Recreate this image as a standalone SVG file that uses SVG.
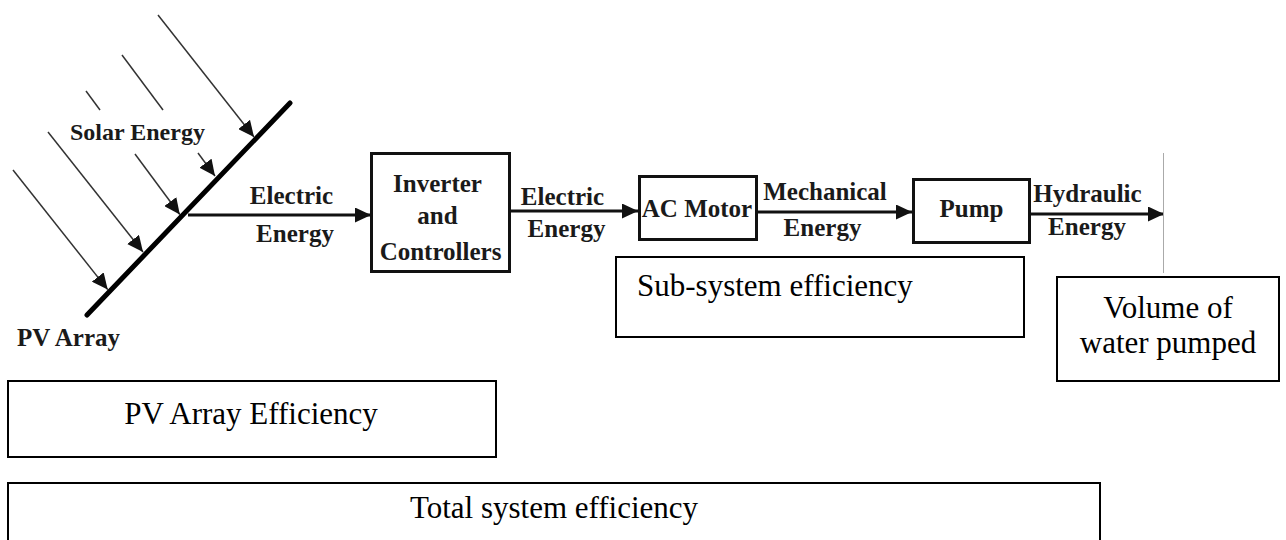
<svg xmlns="http://www.w3.org/2000/svg" width="1286" height="540" viewBox="0 0 1286 540">
<style>
.lbl{font-family:"Liberation Serif","Times New Roman",serif;font-weight:bold;font-size:25px;fill:#1a1a1a;text-anchor:middle}
.big{font-family:"Liberation Serif","Times New Roman",serif;font-size:31px;fill:#000}
.blk{fill:#fff;stroke:#111;stroke-width:3}
.box{fill:#fff;stroke:#000;stroke-width:2}
.flow{stroke:#111;stroke-width:3;fill:none}
.ray{stroke:#333;stroke-width:1.5;fill:none}
</style>
<defs>
<marker id="ah" markerUnits="userSpaceOnUse" markerWidth="17" markerHeight="15" refX="16" refY="7.5" orient="auto">
<path d="M0,0 L16,7.5 L0,15 z" fill="#111"/>
</marker>
</defs>
<rect width="1286" height="540" fill="#fff"/>

<g id="connectors">
<line class="ray" x1="13" y1="170" x2="107.7" y2="289.6" marker-end="url(#ah)"/>
<line class="ray" x1="48" y1="132" x2="143" y2="252" marker-end="url(#ah)"/>
<line class="ray" x1="86" y1="91" x2="100" y2="110"/>
<line class="ray" x1="135" y1="154" x2="179.8" y2="214.5" marker-end="url(#ah)"/>
<line class="ray" x1="122" y1="55" x2="163" y2="110"/>
<line class="ray" x1="198" y1="153" x2="215" y2="176" marker-end="url(#ah)"/>
<line class="ray" x1="158" y1="15" x2="254" y2="137" marker-end="url(#ah)"/>
<line class="flow" x1="188" y1="215" x2="371" y2="215" marker-end="url(#ah)"/>
<line class="flow" x1="510" y1="211" x2="638" y2="211" marker-end="url(#ah)"/>
<line class="flow" x1="757" y1="212" x2="912" y2="212" marker-end="url(#ah)"/>
<line class="flow" x1="1030" y1="214" x2="1164" y2="214" marker-end="url(#ah)"/>
<line x1="1163.5" y1="153" x2="1163.5" y2="273" stroke="#aaa" stroke-width="1"/>
</g>

<g id="pv-array">
<line x1="87" y1="315" x2="290" y2="103" stroke="#000" stroke-width="5" stroke-linecap="round"/>
<text class="lbl" x="17" y="346" style="text-anchor:start">PV Array</text>
<text class="lbl" x="70" y="140" style="text-anchor:start;font-size:24px">Solar Energy</text>
</g>

<g id="flow-labels">
<text class="lbl" x="291.5" y="204">Electric</text>
<text class="lbl" x="295" y="242">Energy</text>
<text class="lbl" x="562.5" y="205">Electric</text>
<text class="lbl" x="566.5" y="237">Energy</text>
<text class="lbl" x="825" y="200">Mechanical</text>
<text class="lbl" x="822.5" y="236">Energy</text>
<text class="lbl" x="1087.5" y="202">Hydraulic</text>
<text class="lbl" x="1087" y="235">Energy</text>
</g>

<g id="inverter">
<rect class="blk" x="371.5" y="153.5" width="138" height="118"/>
<text class="lbl" x="437.5" y="192">Inverter</text>
<text class="lbl" x="437.5" y="224">and</text>
<text class="lbl" x="440.5" y="260">Controllers</text>
</g>

<g id="ac-motor">
<rect class="blk" x="639.5" y="176.5" width="117" height="63"/>
<text class="lbl" x="697" y="217">AC Motor</text>
</g>

<g id="pump">
<rect class="blk" x="913.5" y="179.5" width="116" height="63"/>
<text class="lbl" x="971.5" y="217">Pump</text>
</g>

<g id="sub-system-efficiency">
<rect class="box" x="616" y="257" width="408" height="80"/>
<text class="big" x="637" y="296">Sub-system efficiency</text>
</g>

<g id="volume-of-water">
<rect class="box" x="1057" y="277" width="222" height="104"/>
<text class="big" x="1168" y="318" text-anchor="middle">Volume of</text>
<text class="big" x="1168" y="353" text-anchor="middle">water pumped</text>
</g>

<g id="pv-array-efficiency">
<rect class="box" x="8" y="381" width="488" height="76"/>
<text class="big" x="251" y="424" text-anchor="middle">PV Array Efficiency</text>
</g>

<g id="total-system-efficiency">
<rect class="box" x="8" y="483" width="1092" height="70"/>
<text class="big" x="554" y="518" text-anchor="middle">Total system efficiency</text>
</g>
</svg>
